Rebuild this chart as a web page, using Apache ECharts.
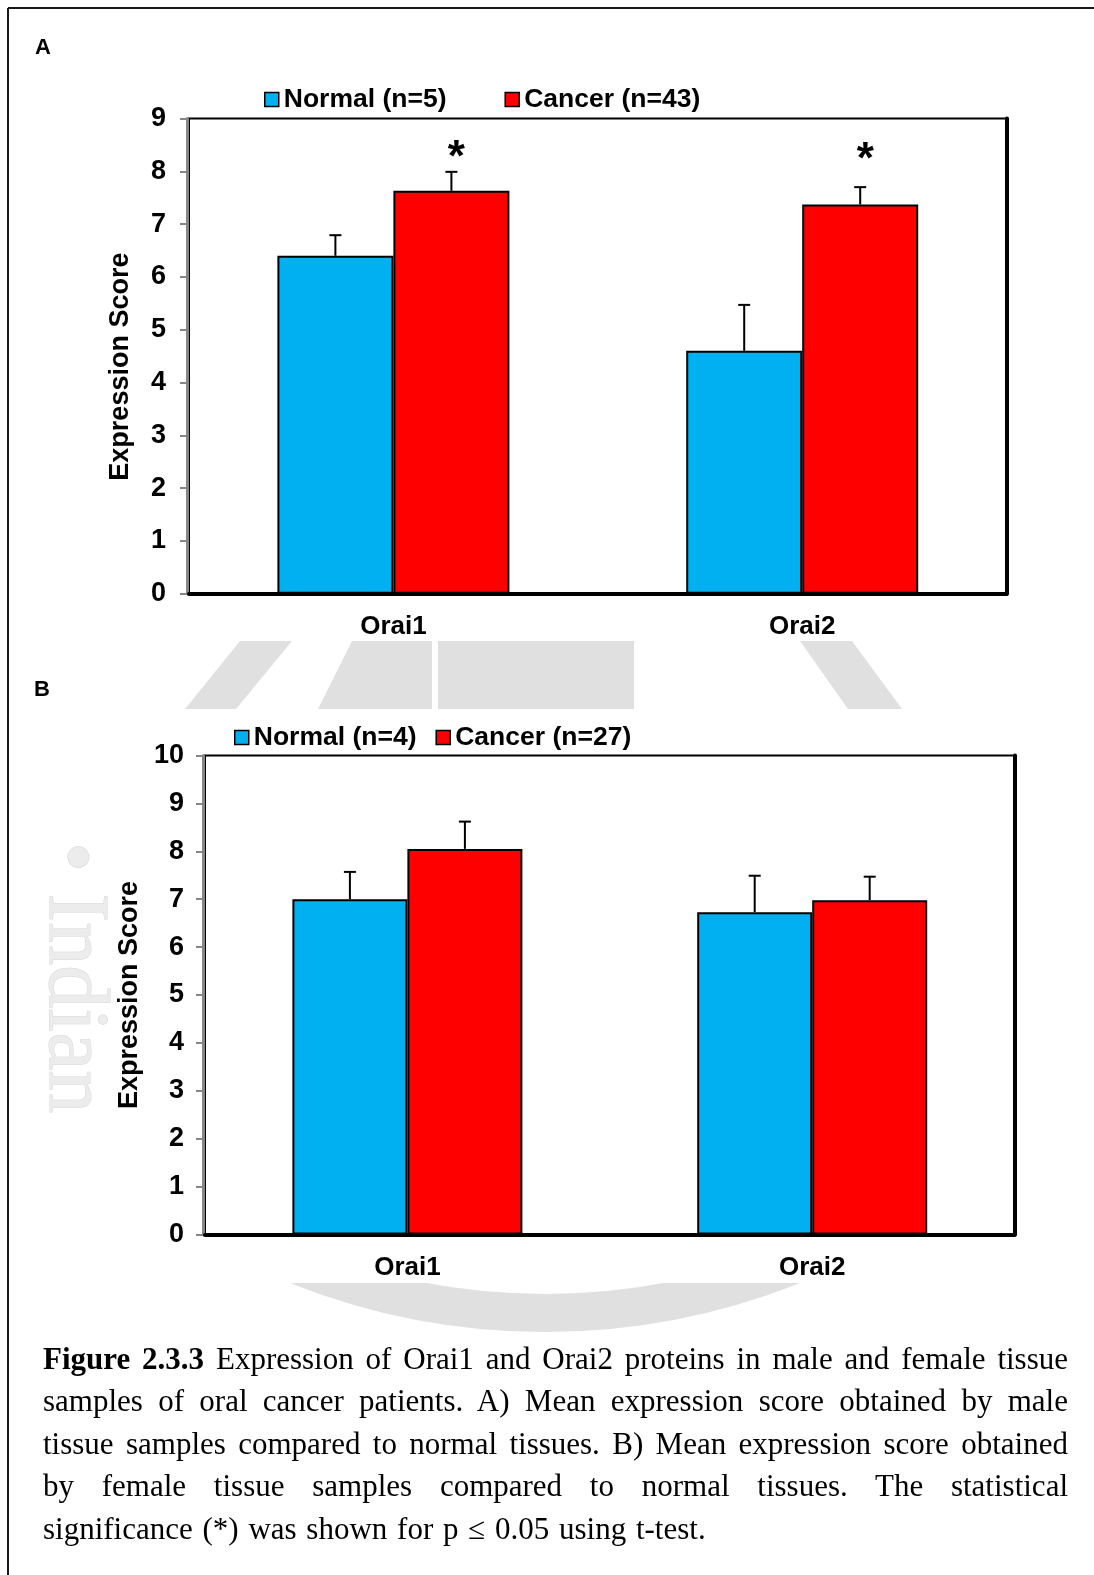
<!DOCTYPE html>
<html>
<head>
<meta charset="utf-8">
<script src="https://cdn.jsdelivr.net/npm/echarts@6/dist/echarts.min.js"></script>
<style>
  body { margin: 0; background: #fff; }
  #main { width: 1094px; height: 1575px; position: absolute; left: 0; top: 0; }
  #caption {
    position: absolute; left: 43px; top: 1338px; width: 1025px;
    font-family: "Liberation Serif", "Times New Roman", serif;
    font-size: 31px; line-height: 42.4px; color: #000;
  }
  #caption div { text-align: justify; text-align-last: justify; white-space: nowrap; }
  #caption div.last { text-align-last: left; word-spacing: 2px; }
</style>
</head>
<body>
<div id="main"></div>
<div id="caption">
  <div><b>Figure 2.3.3</b> Expression of Orai1 and Orai2 proteins in male and female tissue</div>
  <div>samples of oral cancer patients. A) Mean expression score obtained by male</div>
  <div>tissue samples compared to normal tissues. B) Mean expression score obtained</div>
  <div>by female tissue samples compared to normal tissues. The statistical</div>
  <div class="last">significance (*) was shown for p ≤ 0.05 using t-test.</div>
</div>
<script>
var categories = ['Orai1', 'Orai2'];

// panel A (male)
var namesA = ['Normal (n=5)', 'Cancer (n=43)'];
var normalA = [6.40, 4.60];
var normalAErr = [6.79, 5.47];   // top of error bar
var cancerA = [7.63, 7.37];
var cancerAErr = [7.99, 7.70];
var starA = [8.42, 8.38];        // '*' height

// panel B (female)
var namesB = ['Normal (n=4)', 'Cancer (n=27)'];
var normalB = [7.00, 6.73];
var normalBErr = [7.57, 7.49];
var cancerB = [8.05, 6.98];
var cancerBErr = [8.62, 7.47];

var BLUE = '#00B0F0', RED = '#FF0000';
var FONT = '"Liberation Sans", Arial, sans-serif';
var WM = '#e0e0e0';

var myChart = echarts.init(document.getElementById('main'));

function errData(vals, tops) {
    return vals.map(function (v, i) { return [i, v, tops[i]]; });
}

function errRender(side, bw) {
    return function (params, api) {
        var i = api.value(0);
        var p0 = api.coord([i, api.value(1)]);
        var p1 = api.coord([i, api.value(2)]);
        var x = p0[0] + side * bw / 2;
        var st = { stroke: '#000', lineWidth: 2 };
        return {
            type: 'group',
            children: [
                { type: 'line', shape: { x1: x, y1: p0[1], x2: x, y2: p1[1] }, style: st },
                { type: 'line', shape: { x1: x - 6, y1: p1[1], x2: x + 6, y2: p1[1] }, style: st }
            ]
        };
    };
}

function starRender(bw) {
    return function (params, api) {
        var p = api.coord([api.value(0), api.value(1)]);
        return {
            type: 'text',
            style: {
                text: '*', x: p[0] + bw / 2 + 5, y: p[1] + 10,
                fill: '#000', font: 'bold 44px ' + FONT,
                align: 'center', verticalAlign: 'middle'
            }
        };
    };
}

function makeAxes(g, max, nameGap, namePad, labelMargin) {
    return {
        x: [{
            type: 'category', gridIndex: g, data: categories, offset: 2,
            axisLine: { lineStyle: { color: '#868686', width: 3 } },
            axisTick: { length: 7, lineStyle: { color: '#868686', width: 2 } },
            axisLabel: { color: '#000', fontSize: 26, fontWeight: 'bold', fontFamily: FONT, margin: 18 }
        }, {
            type: 'category', gridIndex: g, data: categories, position: 'top',
            axisLine: { lineStyle: { color: '#000', width: 4 } },
            axisTick: { show: false }, axisLabel: { show: false }
        }],
        y: [{
            type: 'value', gridIndex: g, min: 0, max: max, interval: 1, offset: 2,
            name: 'Expression Score', nameLocation: 'middle', nameGap: nameGap,
            nameTextStyle: { color: '#000', fontSize: 27, fontWeight: 'bold', fontFamily: FONT, padding: [0, namePad, 0, 0] },
            axisLine: { show: true, lineStyle: { color: '#868686', width: 3 } },
            axisTick: { show: true, length: 7, lineStyle: { color: '#868686', width: 2 } },
            axisLabel: { color: '#000', fontSize: 27, fontWeight: 'bold', fontFamily: FONT, margin: labelMargin },
            splitLine: { show: false }
        }, {
            type: 'value', gridIndex: g, min: 0, max: max, interval: 1, position: 'right',
            axisLine: { show: true, lineStyle: { color: '#000', width: 4 } },
            axisTick: { show: false }, axisLabel: { show: false }, splitLine: { show: false }
        }]
    };
}

var axA = makeAxes(0, 9, 53, 21, 21);
var axB = makeAxes(1, 10, 57, 0, 19);

function barSeries(name, data, color, xi, yi, bw) {
    return {
        name: name, type: 'bar', xAxisIndex: xi, yAxisIndex: yi, data: data,
        barWidth: bw, barGap: '0%',
        itemStyle: { color: color, borderColor: '#000', borderWidth: 2 },
        z: 2
    };
}

function errSeries(vals, tops, side, xi, yi, bw) {
    return {
        type: 'custom', xAxisIndex: xi, yAxisIndex: yi,
        data: errData(vals, tops), renderItem: errRender(side, bw), z: 3, silent: true
    };
}

var legendText = { color: '#000', fontSize: 26.5, fontWeight: 'bold', fontFamily: FONT };

// faint watermark pieces showing between the panels
var watermark = [
    { type: 'polygon', z: -10, shape: { points: [[185, 709], [240, 641], [292, 641], [236, 709]] }, style: { fill: WM } },
    { type: 'polygon', z: -10, shape: { points: [[318, 709], [352, 641], [432, 641], [432, 709]] }, style: { fill: WM } },
    { type: 'rect', z: -10, shape: { x: 438, y: 641, width: 196, height: 68 }, style: { fill: WM } },
    { type: 'polygon', z: -10, shape: { points: [[800, 641], [852, 641], [902, 709], [848, 709]] }, style: { fill: WM } },
    { type: 'arc', z: -10, shape: { cx: 545, cy: 644, r: 669, startAngle: Math.PI * 0.38, endAngle: Math.PI * 0.62 },
      style: { stroke: WM, lineWidth: 38, fill: null } },
    { type: 'rect', z: -9, shape: { x: 112, y: 709, width: 928, height: 574 }, style: { fill: '#fff' } },
    { type: 'rect', z: -9, shape: { x: 20, y: 20, width: 1060, height: 621 }, style: { fill: '#fff' } },
    { type: 'text', z: -10, x: 116, y: 842, rotation: -Math.PI / 2,
      style: { text: '• Indian', fill: '#ececec', stroke: '#d6d6d6', lineWidth: 1, font: '86px "Liberation Serif", serif' } }
];

var option = {
    backgroundColor: '#fff',
    animation: false,
    grid: [
        { left: 189, top: 118.5, width: 817.6, height: 475.2, show: true, borderColor: '#000', borderWidth: 2 },
        { left: 205, top: 755.5, width: 809.6, height: 479, show: true, borderColor: '#000', borderWidth: 2 }
    ],
    legend: [{
        data: namesA, left: 264, top: 86, itemWidth: 14, itemHeight: 14, itemGap: 58, padding: 0,
        icon: 'rect', itemStyle: { borderColor: '#000', borderWidth: 1.5 }, textStyle: legendText
    }, {
        data: namesB, left: 234, top: 724, itemWidth: 14, itemHeight: 14, itemGap: 19, padding: 0,
        icon: 'rect', itemStyle: { borderColor: '#000', borderWidth: 1.5 }, textStyle: legendText
    }],
    xAxis: axA.x.concat(axB.x),
    yAxis: axA.y.concat(axB.y),
    graphic: watermark.concat([
        { type: 'line', shape: { x1: 8, y1: 8, x2: 1094, y2: 8 }, style: { stroke: '#1a1a1a', lineWidth: 2 } },
        { type: 'line', shape: { x1: 8, y1: 8, x2: 8, y2: 1575 }, style: { stroke: '#1a1a1a', lineWidth: 2 } },
        { type: 'text', left: 35, top: 37, style: { text: 'A', fill: '#000', font: 'bold 22px ' + FONT } },
        { type: 'text', left: 34, top: 679, style: { text: 'B', fill: '#000', font: 'bold 22px ' + FONT } }
    ]),
    series: [
        barSeries(namesA[0], normalA, BLUE, 0, 0, 116),
        barSeries(namesA[1], cancerA, RED, 0, 0, 116),
        errSeries(normalA, normalAErr, -1, 0, 0, 116),
        errSeries(cancerA, cancerAErr, 1, 0, 0, 116),
        {
            type: 'custom', xAxisIndex: 0, yAxisIndex: 0, z: 4, silent: true,
            data: starA.map(function (v, i) { return [i, v]; }),
            renderItem: starRender(116)
        },
        barSeries(namesB[0], normalB, BLUE, 2, 2, 115),
        barSeries(namesB[1], cancerB, RED, 2, 2, 115),
        errSeries(normalB, normalBErr, -1, 2, 2, 115),
        errSeries(cancerB, cancerBErr, 1, 2, 2, 115)
    ]
};

myChart.setOption(option);

window.onresize = function () {
    myChart.resize();
};
</script>
</body>
</html>
